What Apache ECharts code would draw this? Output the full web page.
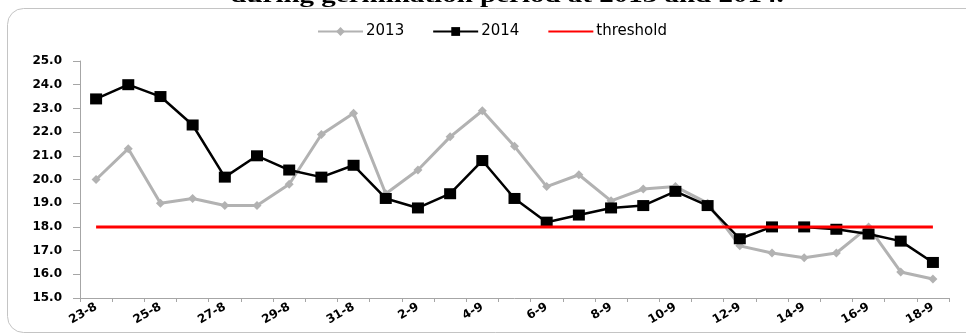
<!DOCTYPE html>
<html><head><meta charset="utf-8">
<script src="https://cdn.jsdelivr.net/npm/echarts@6/dist/echarts.min.js"></script>
<style>html,body{margin:0;padding:0;background:#fff}#c{width:966px;height:336px}</style>
</head><body><div id="c"></div>
<script>
const categories = ['23-8','24-8','25-8','26-8','27-8','28-8','29-8','30-8','31-8','1-9','2-9','3-9','4-9','5-9','6-9','7-9','8-9','9-9','10-9','11-9','12-9','13-9','14-9','15-9','16-9','17-9','18-9'];
const s2013 = [20.0,21.3,19.0,19.2,18.9,18.9,19.8,21.9,22.8,19.4,20.4,21.8,22.9,21.4,19.7,20.2,19.1,19.6,19.7,19.0,17.2,16.9,16.7,16.9,18.0,16.1,15.8];
const s2014 = [23.4,24.0,23.5,22.3,20.1,21.0,20.4,20.1,20.6,19.2,18.8,19.4,20.8,19.2,18.2,18.5,18.8,18.9,19.5,18.9,17.5,18.0,18.0,17.9,17.7,17.4,16.5];
const threshold = categories.map(() => 18.0);
const yTicks = {min: 15, max: 25, interval: 1};

const chart = echarts.init(document.getElementById('c'), null, {renderer: 'canvas'});
const lab = {fontFamily: 'DejaVu Sans', fontWeight: 'bold', color: '#000'};
chart.setOption({
  animation: false,
  backgroundColor: '#fff',
  graphic: [
    {type: 'rect', shape: {x: 7.5, y: 8.5, width: 1000, height: 324, r: 16}, style: {fill: 'none', stroke: '#c4c4c4', lineWidth: 1}, z: -1},
    {type: 'text', x: 507, y: 7, scaleX: 1.45, style: {text: 'during germination period at 2013 and 2014.', x: 0, y: 0, align: 'center', verticalAlign: 'bottom', font: 'bold 20px "Liberation Serif"', fill: '#000'}}
  ],
  legend: {
    top: 19, left: 312, itemGap: 28, itemWidth: 45, itemHeight: 11,
    textStyle: {fontFamily: 'DejaVu Sans', fontSize: 15, color: '#000', padding: [0, 0, 0, -2]},
    data: ['2013', '2014', {name: 'threshold', itemStyle: {opacity: 0}}]
  },
  grid: {left: 80, right: 17, top: 61, bottom: 38, containLabel: false},
  xAxis: {
    type: 'category', data: categories, boundaryGap: true,
    axisLine: {lineStyle: {color: '#a6a6a6', width: 1}},
    axisTick: {show: true, interval: 0, length: 4, lineStyle: {color: '#a6a6a6'}},
    axisLabel: Object.assign({interval: 1, rotate: 30, margin: 8, fontSize: 12}, lab),
    splitLine: {show: false}
  },
  yAxis: {
    type: 'value', min: yTicks.min, max: yTicks.max, interval: yTicks.interval,
    axisLine: {show: true, lineStyle: {color: '#a6a6a6', width: 1}},
    axisTick: {show: true, length: 7, lineStyle: {color: '#a6a6a6'}},
    axisLabel: Object.assign({margin: 18, fontSize: 12, formatter: v => v.toFixed(1)}, lab),
    splitLine: {show: false}
  },
  series: [
    {name: '2013', type: 'line', data: s2013, symbol: 'diamond', symbolSize: 9,
     lineStyle: {color: '#b2b2b2', width: 3}, itemStyle: {color: '#b2b2b2'}, z: 2},
    {name: '2014', type: 'line', data: s2014, symbol: 'rect', symbolSize: [12, 11],
     lineStyle: {color: '#000', width: 2.5}, itemStyle: {color: '#000'}, z: 3},
    {name: 'threshold', type: 'line', data: threshold, symbol: 'none', showSymbol: false,
     lineStyle: {color: '#ff0000', width: 3}, itemStyle: {color: '#ff0000'}, z: 4}
  ]
});
</script></body></html>
